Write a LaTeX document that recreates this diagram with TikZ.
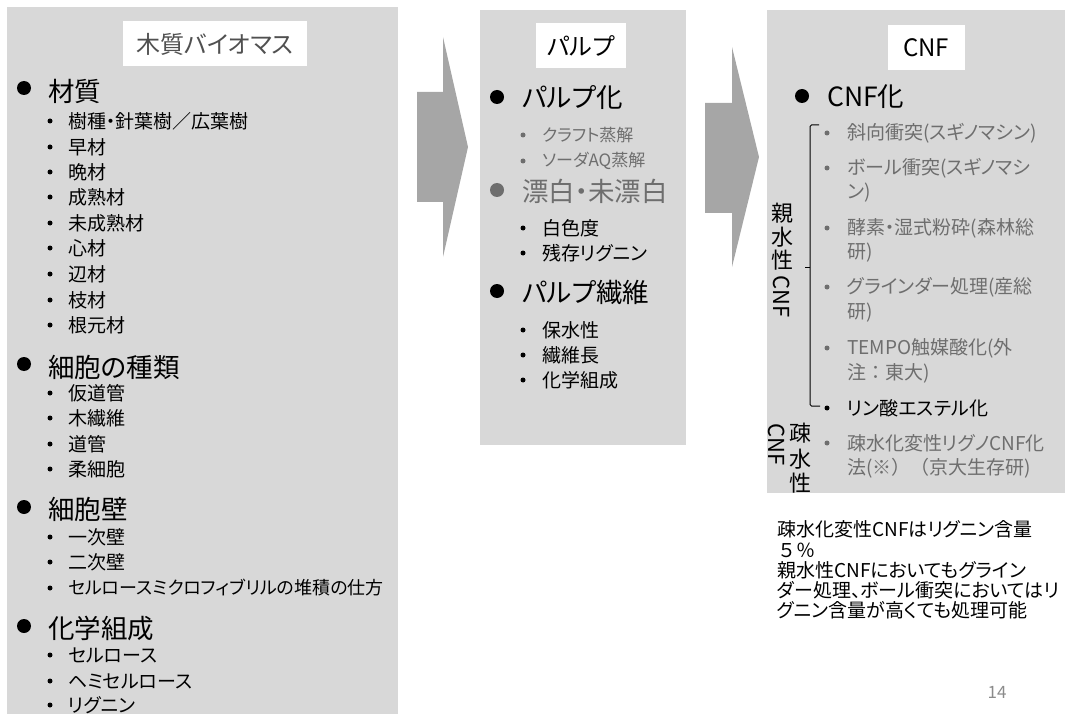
\documentclass[tikz,border=0pt]{standalone}
\usepackage{fontspec}
\setmainfont{Noto Sans CJK JP}[RawFeature=+palt]
\newfontfamily\fullw{Noto Sans CJK JP}
\definecolor{panelbg}{RGB}{216,216,216}
\definecolor{arrowgray}{RGB}{166,166,166}
\definecolor{txtgray}{RGB}{110,110,110}
\definecolor{titlegray}{RGB}{80,80,80}
\tikzset{
  panel/.style={fill=panelbg, draw=none},
  titlebox/.style={fill=white, draw=none, inner sep=0pt},
  head/.style={anchor=west, inner sep=0pt, font=\fontsize{26.5}{30}\selectfont},
  sub/.style={anchor=west, inner sep=0pt, font=\fontsize{19}{22}\selectfont},
  subsmall/.style={anchor=west, inner sep=0pt, font=\fontsize{17}{20}\selectfont},
  bigdot/.style={circle, fill=black, inner sep=0pt, minimum size=14pt},
  smalldot/.style={circle, fill=black, inner sep=0pt, minimum size=5pt},
  bigarrow/.style={fill=arrowgray, draw=none},
  vlab/.style={inner sep=0pt, font=\fontsize{22}{24}\selectfont},
  note/.style={anchor=west, inner sep=0pt, font=\fontsize{19}{20}\selectfont}
}
\begin{document}
\begin{tikzpicture}[x=1pt,y=-1pt]
\useasboundingbox (0,0) rectangle (1073,714);
% panels
\fill[panel] (7,7) rectangle (398,714);
\fill[panel] (480,10) rectangle (686,445);
\fill[panel] (767,10) rectangle (1065,493);
% arrows
\fill[bigarrow] (417,92) -- (443,92) -- (443,37) -- (468,147) -- (443,257) -- (443,202) -- (417,202) -- cycle;
\fill[bigarrow] (705,103) -- (732,103) -- (732,47) -- (759,157) -- (732,267) -- (732,213) -- (705,213) -- cycle;

% ---------- panel 1 ----------
\fill[white] (123,21) rectangle (307,66);
\node[inner sep=0pt, text=titlegray, font=\fontsize{24}{28}\selectfont] (t1) at (215,44) {木質バイオマス};

\node[bigdot] (b11) at (24,88) {};
\node[head] (h11) at (48,91) {材質};
\foreach \yy/\tx [count=\i] in {121/樹種・針葉樹／広葉樹,147/早材,172/晩材,197/成熟材,223/未成熟材,248/心材,274/辺材,300/枝材,325/根元材}{
  \node[smalldot] (sa\i) at (50,\yy) {};
  \node[sub] (ta\i) at (68,\yy) {\tx};
}
\node[bigdot] (b12) at (24,364) {};
\node[head] (h12) at (48,367) {細胞の種類};
\foreach \yy/\tx [count=\i] in {393/仮道管,418/木繊維,444/道管,469/柔細胞}{
  \node[smalldot] (sb\i) at (50,\yy) {};
  \node[sub] (tb\i) at (68,\yy) {\tx};
}
\node[bigdot] (b13) at (24,507) {};
\node[head] (h13) at (48,509) {細胞壁};
\foreach \yy/\tx [count=\i] in {537/一次壁,562/二次壁}{
  \node[smalldot] (sc\i) at (50,\yy) {};
  \node[sub] (tc\i) at (68,\yy) {\tx};
}
\node[smalldot] (sc3) at (50,588) {};
\node[sub, font=\fontsize{18}{22}\selectfont] (tc3) at (68,588) {セルロースミクロフィブリルの堆積の仕方};
\node[bigdot] (b14) at (24,626) {};
\node[head] (h14) at (48,628) {化学組成};
\foreach \yy/\tx [count=\i] in {655/セルロース,681/ヘミセルロース,705/リグニン}{
  \node[smalldot] (sd\i) at (50,\yy) {};
  \node[sub] (td\i) at (68,\yy) {\tx};
}

% ---------- panel 2 ----------
\fill[white] (536,23) rectangle (626,68);
\node[inner sep=0pt, font=\fontsize{24}{28}\selectfont] (t2) at (581,46) {パルプ};

\node[bigdot] (b21) at (497,97) {};
\node[head] (h21) at (522,98) {パルプ化};
\node[smalldot, fill=txtgray] (se1) at (523,135) {};
\node[subsmall, text=txtgray] (te1) at (542,135) {クラフト蒸解};
\node[smalldot, fill=txtgray] (se2) at (523,161) {};
\node[subsmall, text=txtgray] (te2) at (542,161) {ソーダAQ蒸解};
\node[bigdot, fill=txtgray] (b22) at (497,190) {};
\node[head, text=txtgray] (h22) at (522,191) {漂白・未漂白};
\foreach \yy/\tx [count=\i] in {228/白色度,253/残存リグニン}{
  \node[smalldot] (sf\i) at (523,\yy) {};
  \node[sub] (tf\i) at (542,\yy) {\tx};
}
\node[bigdot] (b23) at (497,291) {};
\node[head] (h23) at (522,292) {パルプ繊維};
\foreach \yy/\tx [count=\i] in {330/保水性,355/繊維長,380/化学組成}{
  \node[smalldot] (sg\i) at (523,\yy) {};
  \node[sub] (tg\i) at (542,\yy) {\tx};
}

% ---------- panel 3 ----------
\fill[white] (888,25) rectangle (965,70);
\node[inner sep=0pt, font=\fontsize{24}{28}\selectfont] (t3) at (926,48) {CNF};

\node[bigdot] (b31) at (802,96) {};
\node[head] (h31) at (827,97) {CNF化};
\foreach \yy/\tx [count=\i] in {133/斜向衝突(スギノマシン),168/ボール衝突(スギノマシ,228/酵素・湿式粉砕(森林総,287/グラインダー処理(産総,348/TEMPO触媒酸化(外,443/疎水化変性リグノCNF化}{
  \node[smalldot, fill=txtgray] (sh\i) at (827,\yy) {};
  \node[sub, text=txtgray] (th\i) at (847,\yy) {\tx};
}
\node[sub, text=txtgray] (ti1) at (847,193) {ン)};
\node[sub, text=txtgray] (ti2) at (847,253) {研)};
\node[sub, text=txtgray] (ti3) at (847,313) {研)};
\node[sub, text=txtgray] (ti4) at (847,373) {{\fullw 注：}東大)};
\node[sub, text=txtgray] (ti5) at (847,468) {法(※{\fullw ）（}京大生存研)};
\node[smalldot] (sj) at (827,408) {};
\node[sub] (tj) at (847,408) {リン酸エステル化};

% brace
\coordinate (brT) at (819,125);
\coordinate (brB) at (820,406);
\coordinate (brM) at (805,267);
\draw[line width=1pt, rounded corners=1.5pt] (brT) -- (810,125) -- (810,406) -- (brB);
\draw[line width=1pt] (810,267) -- (brM);

% vertical labels
\node[vlab] (v1) at (782,213) {親};
\node[vlab] (v2) at (782,237) {水};
\node[vlab] (v3) at (782,260) {性};
\node[vlab, rotate=-90] (v4) at (782,297) {CNF};
\node[vlab] (w1) at (800,433) {疎};
\node[vlab] (w2) at (800,459) {水};
\node[vlab] (w3) at (800,483) {性};
\node[vlab, rotate=-90, anchor=west] (w4) at (777,423) {CNF};

% note
\node[note] (n1) at (777,529) {疎水化変性CNFはリグニン含量};
\node[note] (n2) at (777,550) {\fullw ５％};
\node[note] (n3) at (777,570) {親水性CNFにおいてもグライン};
\node[note] (n4) at (777,590) {ダー処理、ボール衝突においてはリ};
\node[note] (n5) at (777,610) {グニン含量が高くても処理可能};

\node[inner sep=0pt, text=txtgray!80, font=\fontsize{17}{20}\selectfont] (pg) at (997,692) {14};
\end{tikzpicture}
\end{document}
